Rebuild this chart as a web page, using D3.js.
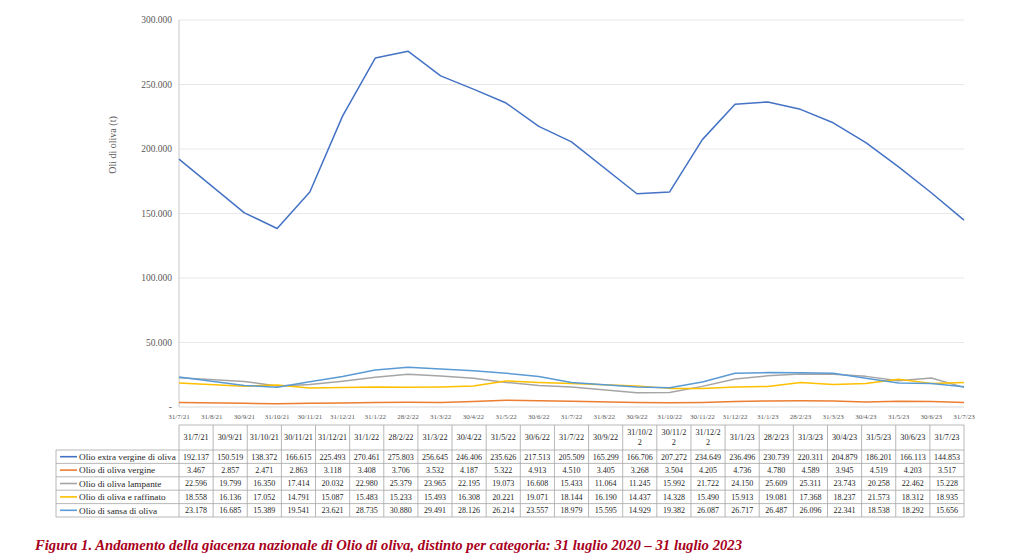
<!DOCTYPE html>
<html><head><meta charset="utf-8">
<script src="https://cdn.jsdelivr.net/npm/d3@7"></script>
<style>body{margin:0;background:#fff}svg{display:block}</style>
</head><body><svg id="c" width="1024" height="557"></svg>
<script>
const axisMonths = ["31/7/21","31/8/21","30/9/21","31/10/21","30/11/21","31/12/21","31/1/22","28/2/22","31/3/22","30/4/22","31/5/22","30/6/22","31/7/22","31/8/22","30/9/22","31/10/22","30/11/22","31/12/22","31/1/23","28/2/23","31/3/23","30/4/23","31/5/23","30/6/23","31/7/23"];
const dates = ["31/7/21","30/9/21","31/10/21","30/11/21","31/12/21","31/1/22","28/2/22","31/3/22","30/4/22","31/5/22","30/6/22","31/7/22","30/9/22","31/10/22","30/11/22","31/12/22","31/1/23","28/2/23","31/3/23","30/4/23","31/5/23","30/6/23","31/7/23"];
const headerLabels = ["31/7/21","30/9/21","31/10/21","30/11/21","31/12/21","31/1/22","28/2/22","31/3/22","30/4/22","31/5/22","30/6/22","31/7/22","30/9/22","31/10/2\n2","30/11/2\n2","31/12/2\n2","31/1/23","28/2/23","31/3/23","30/4/23","31/5/23","30/6/23","31/7/23"];
const seriesNames = ["Olio extra vergine di oliva","Olio di oliva vergine","Olio di oliva lampante","Olio di oliva e raffinato","Olio di sansa di oliva"];
const seriesColors = ["#4472C4","#ED7D31","#A5A5A5","#FFC000","#5B9BD5"];
const extraVergine = [192137,150519,138372,166615,225493,270461,275803,256645,246406,235626,217513,205509,165299,166706,207272,234649,236496,230739,220311,204879,186201,166113,144853];
const vergine = [3467,2857,2471,2863,3118,3408,3706,3532,4187,5322,4913,4510,3405,3268,3504,4205,4736,4780,4589,3945,4519,4203,3517];
const lampante = [22596,19799,16350,17414,20032,22980,25379,23965,22195,19073,16608,15433,11064,11245,15992,21722,24150,25609,25311,23743,20258,22462,15228];
const raffinato = [18558,16136,17052,14791,15087,15483,15233,15493,16308,20221,19071,18144,16190,14437,14328,15490,15913,19081,17368,18237,21573,18312,18935];
const sansa = [23178,16685,15389,19541,23621,28735,30880,29491,28126,26214,23557,18979,15595,14929,19382,26087,26717,26487,26096,22341,18538,18292,15656];
const yTicks = [0,50000,100000,150000,200000,250000,300000];
const yTitle = "Oli di oliva (t)";
const caption = "Figura 1. Andamento della giacenza nazionale di Olio di oliva, distinto per categoria: 31 luglio 2020 \u2013 31 luglio 2023";

const allSeries = [extraVergine, vergine, lampante, raffinato, sansa];
const it = d3.formatLocale({decimal:",", thousands:".", grouping:[3], currency:["€",""]});
const fmt = it.format(",.0f");
const svg = d3.select("#c");
svg.append("rect").attr("width",1024).attr("height",557).attr("fill","#fff");
const serif = "'Liberation Serif','DejaVu Serif',serif";

const x = d3.scalePoint().domain(axisMonths).range([179, 964]);
const y = d3.scaleLinear().domain([0,300000]).range([407, 20]);

svg.append("g").selectAll("line").data(yTicks.filter(d=>d>0)).join("line")
  .attr("x1",179).attr("x2",964).attr("y1",d=>y(d)).attr("y2",d=>y(d))
  .attr("stroke","#e8e8e8").attr("stroke-width",1);
svg.append("line").attr("x1",179).attr("x2",964).attr("y1",y(0)).attr("y2",y(0)).attr("stroke","#d9d9d9");
svg.append("line").attr("x1",179).attr("x2",179).attr("y1",y(300000)).attr("y2",y(0)).attr("stroke","#c8c8c8");

svg.append("g").selectAll("text").data(yTicks).join("text")
  .attr("x",172).attr("y",d=>y(d)).attr("dy","0.35em")
  .attr("text-anchor","end").attr("font-family",serif).attr("font-size",9.5).attr("fill","#595959")
  .text(d=>d===0?"-":fmt(d));
svg.append("text").attr("transform","translate(116,145) rotate(-90)").attr("text-anchor","middle")
  .attr("font-family",serif).attr("font-size",10).attr("fill","#595959").text(yTitle);

svg.append("g").selectAll("text").data(axisMonths).join("text")
  .attr("x",d=>x(d)).attr("y",419).attr("text-anchor","middle")
  .attr("font-family",serif).attr("font-size",7).attr("fill","#595959").text(d=>d);

const line = d3.line().x((d,i)=>x(dates[i])).y(d=>y(d));
allSeries.forEach((s,k)=>{
  svg.append("path").datum(s).attr("d",line).attr("fill","none")
    .attr("stroke",seriesColors[k]).attr("stroke-width",1.5).attr("stroke-linejoin","round");
});

const tX0 = 56, tX1 = 179, tRight = 964;
const colW = (tRight - tX1)/dates.length;
const hTop = 425, hBot = 450, rowH = 13.4;
const tBot = hBot + rowH*5;
const tg = svg.append("g");
const bc = "#a6a6a6";
tg.append("line").attr("x1",tX1).attr("x2",tRight).attr("y1",hTop).attr("y2",hTop).attr("stroke",bc).attr("stroke-width",0.8);
for(let r=0;r<=5;r++){
  tg.append("line").attr("x1",tX0).attr("x2",tRight).attr("y1",hBot+r*rowH).attr("y2",hBot+r*rowH).attr("stroke",bc).attr("stroke-width",0.8);
}
tg.append("line").attr("x1",tX0).attr("x2",tX0).attr("y1",hBot).attr("y2",tBot).attr("stroke",bc).attr("stroke-width",0.8);
for(let c=0;c<=dates.length;c++){
  tg.append("line").attr("x1",tX1+c*colW).attr("x2",tX1+c*colW).attr("y1",hTop).attr("y2",tBot).attr("stroke",bc).attr("stroke-width",0.8);
}
headerLabels.forEach((h,c)=>{
  const parts = h.split("\n");
  const t = tg.append("text").attr("x",tX1+(c+0.5)*colW).attr("text-anchor","middle")
    .attr("font-family",serif).attr("font-size",8.2).attr("fill","#262626");
  if(parts.length===1){ t.attr("y",(hTop+hBot)/2).attr("dy","0.35em").text(h); }
  else {
    parts.forEach((p,j)=>t.append("tspan").attr("x",tX1+(c+0.5)*colW).attr("y",(hTop+hBot)/2 + (j-0.5)*10).attr("dy","0.35em").text(p));
  }
});
allSeries.forEach((s,r)=>{
  const cy = hBot + (r+0.5)*rowH;
  tg.append("line").attr("x1",60).attr("x2",77).attr("y1",cy).attr("y2",cy).attr("stroke",seriesColors[r]).attr("stroke-width",1.6);
  tg.append("text").attr("x",79).attr("y",cy).attr("dy","0.35em").attr("font-family",serif).attr("font-size",9.2).attr("fill","#262626").text(seriesNames[r]);
  s.forEach((v,c)=>{
    tg.append("text").attr("x",tX1+(c+0.5)*colW).attr("y",cy).attr("dy","0.35em").attr("text-anchor","middle")
      .attr("font-family",serif).attr("font-size",8).attr("fill","#262626").text(fmt(v));
  });
});

svg.append("text").attr("transform","translate(35,550) scale(1,1.15)").attr("font-family",serif).attr("font-weight","bold").attr("font-style","italic")
  .attr("font-size",13.5).attr("fill","#A8001C").attr("textLength",707).attr("lengthAdjust","spacingAndGlyphs").text(caption);
</script></body></html>
